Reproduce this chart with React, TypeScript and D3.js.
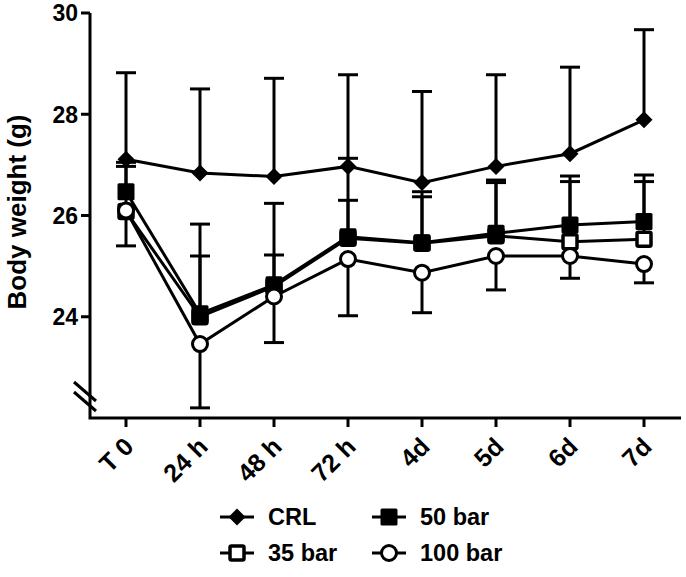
import React from "react";
import * as d3 from "d3";

const categories = ["T 0", "24 h", "48 h", "72 h", "4d", "5d", "6d", "7d"];
const crlMean = [27.11, 26.84, 26.77, 26.97, 26.65, 26.97, 27.22, 27.89];
const crlUpper = [28.82, 28.5, 28.71, 28.78, 28.45, 28.78, 28.93, 29.67];
const bar35Mean = [26.08, 24.0, 24.6, 25.55, 25.45, 25.6, 25.48, 25.53];
const bar35Upper = [26.97, 25.2, 25.22, 26.3, 26.37, 26.65, 26.67, 26.67];
const bar50Mean = [26.47, 24.06, 24.63, 25.58, 25.46, 25.65, 25.81, 25.88];
const bar50Upper = [27.05, 25.83, 26.24, 27.13, 26.47, 26.7, 26.78, 26.8];
const bar100Mean = [26.1, 23.46, 24.4, 25.14, 24.87, 25.2, 25.2, 25.04];
const bar100Lower = [25.4, 22.2, 23.49, 24.02, 24.08, 24.53, 24.76, 24.67];
const yTicks = [24, 26, 28, 30];
const legendLabels = ["CRL", "50 bar", "35 bar", "100 bar"];

const FONT = "'Liberation Sans', Arial, Helvetica, sans-serif";

type Shape = "diamond" | "square" | "openSquare" | "openCircle";

function Marker({ shape, cx, cy }: { shape: Shape; cx: number; cy: number }) {
  if (shape === "diamond") {
    const r = 8.5;
    return (
      <polygon
        points={`${cx},${cy - r} ${cx + r},${cy} ${cx},${cy + r} ${cx - r},${cy}`}
        fill="#000"
      />
    );
  }
  if (shape === "square") {
    const s = 17;
    return <rect x={cx - s / 2} y={cy - s / 2} width={s} height={s} fill="#000" rx={1.5} />;
  }
  if (shape === "openSquare") {
    const s = 14;
    return (
      <rect
        x={cx - s / 2}
        y={cy - s / 2}
        width={s}
        height={s}
        fill="#fff"
        stroke="#000"
        strokeWidth={3.5}
        rx={1.5}
      />
    );
  }
  return <circle cx={cx} cy={cy} r={7.5} fill="#fff" stroke="#000" strokeWidth={3} />;
}

export default function App() {
  const x = d3.scalePoint<string>().domain(categories).range([89, 681]).padding(0.5);
  const y = d3.scaleLinear().domain([22, 30]).range([418, 13]);
  const line = d3
    .line<number>()
    .x((_, i) => x(categories[i]) as number)
    .y((d) => y(d));

  const series: { mean: number[]; bar: number[]; shape: Shape }[] = [
    { mean: crlMean, bar: crlUpper, shape: "diamond" },
    { mean: bar35Mean, bar: bar35Upper, shape: "openSquare" },
    { mean: bar50Mean, bar: bar50Upper, shape: "square" },
    { mean: bar100Mean, bar: bar100Lower, shape: "openCircle" },
  ];

  const legendItems: { label: string; shape: Shape; lx: number; ly: number }[] = [
    { label: legendLabels[0], shape: "diamond", lx: 237, ly: 517 },
    { label: legendLabels[1], shape: "square", lx: 389, ly: 517 },
    { label: legendLabels[2], shape: "openSquare", lx: 237, ly: 553 },
    { label: legendLabels[3], shape: "openCircle", lx: 389, ly: 553 },
  ];

  return (
    <svg
      width={686}
      height={577}
      style={{ position: "absolute", left: 0, top: 0, background: "#fff" }}
      fontFamily={FONT}
      fontWeight="bold"
    >
      <rect width={686} height={577} fill="#fff" />
      {/* axes */}
      <path d={`M90,${y(30)} V${y(22)} H681`} fill="none" stroke="#000" strokeWidth={3} />
      {yTicks.map((t) => (
        <g key={t}>
          <line x1={81} x2={90} y1={y(t)} y2={y(t)} stroke="#000" strokeWidth={3} />
          <text x={78} y={y(t)} dy="0.36em" textAnchor="end" fontSize={23}>
            {t}
          </text>
        </g>
      ))}
      {/* axis break */}
      <line x1={74} y1={382} x2={96} y2={401} stroke="#000" strokeWidth={3} />
      <line x1={74} y1={392} x2={96} y2={411} stroke="#000" strokeWidth={3} />
      {categories.map((c) => (
        <g key={c}>
          <line x1={x(c)} x2={x(c)} y1={418} y2={427} stroke="#000" strokeWidth={3} />
          <text
            transform={`translate(${(x(c) as number) + 3},${442}) rotate(-45)`}
            textAnchor="end"
            dy="0.35em"
            fontSize={25}
          >
            {c}
          </text>
        </g>
      ))}
      <text
        transform={`translate(26,212) rotate(-90)`}
        textAnchor="middle"
        fontSize={26}
      >
        Body weight (g)
      </text>

      {/* series */}
      {series.map((s, si) => (
        <g key={si}>
          {s.mean.map((m, i) => {
            const cx = x(categories[i]) as number;
            return (
              <g key={i}>
                <line x1={cx} x2={cx} y1={y(m)} y2={y(s.bar[i])} stroke="#000" strokeWidth={3} />
                <line x1={cx - 10} x2={cx + 10} y1={y(s.bar[i])} y2={y(s.bar[i])} stroke="#000" strokeWidth={3} />
              </g>
            );
          })}
          <path d={line(s.mean) as string} fill="none" stroke="#000" strokeWidth={3} />
          {s.mean.map((m, i) => (
            <Marker key={i} shape={s.shape} cx={x(categories[i]) as number} cy={y(m)} />
          ))}
        </g>
      ))}

      {/* legend */}
      {legendItems.map((it) => (
        <g key={it.label}>
          <line x1={it.lx - 17} x2={it.lx + 17} y1={it.ly} y2={it.ly} stroke="#000" strokeWidth={3} />
          <Marker shape={it.shape} cx={it.lx} cy={it.ly} />
          <text x={it.lx + 31} y={it.ly} dy="0.36em" fontSize={23.5}>
            {it.label}
          </text>
        </g>
      ))}
    </svg>
  );
}
